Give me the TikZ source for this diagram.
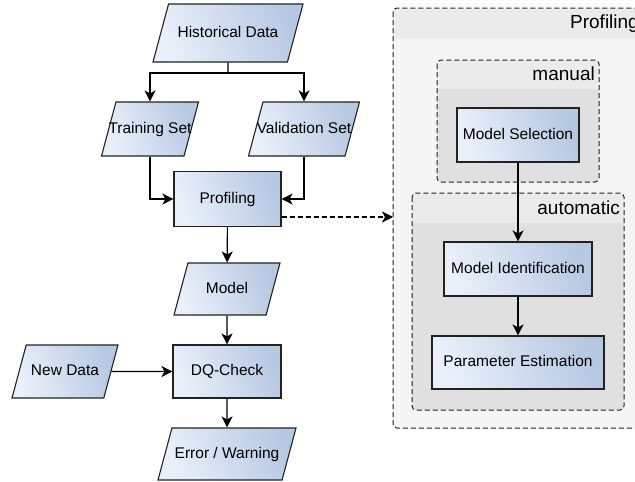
\documentclass[tikz,border=0pt]{standalone}
\usepackage{fontspec}
\setmainfont{Liberation Sans}
\usetikzlibrary{shapes.geometric,arrows.meta}
\definecolor{gradA}{HTML}{EAF0FA}
\definecolor{gradB}{HTML}{B6C8E2}
\definecolor{hdr}{HTML}{EBEBEB}
\definecolor{bodyout}{HTML}{F5F5F5}
\definecolor{bodyin}{HTML}{E0E0E0}
\definecolor{edge}{HTML}{222222}
\tikzset{
  txt/.style={font=\fontsize{15.5}{18}\selectfont, text height=11.5pt, text depth=3.5pt},
  shaded/.style={draw=edge, line width=1.1pt, left color=gradA, right color=gradB, shading angle=110},
  procbox/.style={shaded, rectangle, txt, inner sep=0pt},
  para/.style={shaded, trapezium, trapezium left angle=75, trapezium right angle=105,
    trapezium stretches body, txt, inner xsep=-12pt, inner ysep=#1},
  para/.default=19.5pt,
  conn/.style={line width=1.1pt, -{Stealth[length=11pt,width=11pt,inset=3pt]}},
  plain/.style={line width=1.1pt},
  contbox/.style={draw=edge, line width=1pt, dash pattern=on 5pt off 3pt, rounded corners=4pt},
  lbl/.style={font=\fontsize{19}{22}\selectfont, inner sep=2pt},
}
\begin{document}
\begin{tikzpicture}[x=1pt,y=-1pt]
\useasboundingbox (0,0) rectangle (635,482);
\clip (0,0) rectangle (635,482);
% outer container
\coordinate (onw) at (393,8);
\coordinate (ose) at (645,428);
\fill[bodyout, rounded corners=4pt] (onw) rectangle (ose);
\fill[hdr] (393,38) [rounded corners=4pt] -- (onw) -- (645,8) [sharp corners] -- (645,38) -- cycle;
\draw[contbox] (onw) rectangle (ose);
\node[lbl, anchor=east] (outerlbl) at (641,24) {Profiling};
% manual container
\coordinate (mnw) at (437,60);
\coordinate (mse) at (599,182);
\fill[bodyin, rounded corners=4pt] (mnw) rectangle (mse);
\fill[hdr] (437,89) [rounded corners=4pt] -- (mnw) -- (599,60) [sharp corners] -- (599,89) -- cycle;
\draw[contbox] (mnw) rectangle (mse);
\node[lbl, anchor=east] (manlbl) at (597,74) {manual};
% automatic container
\coordinate (anw) at (412,193);
\coordinate (ase) at (624,410);
\fill[bodyin, rounded corners=4pt] (anw) rectangle (ase);
\fill[hdr] (412,223) [rounded corners=4pt] -- (anw) -- (624,193) [sharp corners] -- (624,223) -- cycle;
\draw[contbox] (anw) rectangle (ase);
\node[lbl, anchor=east] (autlbl) at (622,208) {automatic};
% left flow
\node[para=21.5pt, minimum width=150pt] (hist) at (228,33) {Historical Data};
\node[para, minimum width=97pt] (train) at (150,129) {Training Set};
\node[para, minimum width=111pt] (valid) at (304,129) {Validation Set};
\node[procbox, minimum width=107pt, minimum height=55pt] (prof) at (227.5,199) {Profiling};
\node[para=18.5pt, minimum width=106pt] (model) at (227,289) {Model};
\node[procbox, minimum width=108pt, minimum height=53pt] (dq) at (227,371.5) {DQ-Check};
\node[para=19pt, minimum width=106pt] (newd) at (65,371.5) {New Data};
\node[para=18.5pt, minimum width=138pt] (err) at (227,454) {Error / Warning};
% right flow
\node[procbox, minimum width=122pt, minimum height=54pt] (msel) at (518,135) {Model Selection};
\node[procbox, minimum width=148pt, minimum height=54pt] (mid) at (518,269) {Model Identification};
\node[procbox, minimum width=172pt, minimum height=53pt] (pest) at (518,362.5) {Parameter Estimation};
% connectors
\coordinate (split) at (228,73);
\draw[plain] (hist.south) -- (split);
\draw[conn] (split) -| (train.north);
\draw[conn] (split) -| (valid.north);
\draw[conn] (train.south) |- (prof.west);
\draw[conn] (valid.south) |- (prof.east);
\draw[conn] (prof) -- (model);
\draw[conn] (model) -- (dq);
\draw[conn] (newd) -- (dq);
\draw[conn] (dq) -- (err);
\coordinate (dstart) at ([yshift=-18pt]prof.east);
\draw[line width=1.1pt, dash pattern=on 5pt off 3pt, -{Stealth[length=11pt,width=11pt,inset=3pt]}] (dstart) -- (dstart -| onw);
\draw[conn] (msel) -- (mid);
\draw[conn] (mid) -- (pest);
\end{tikzpicture}
\end{document}
